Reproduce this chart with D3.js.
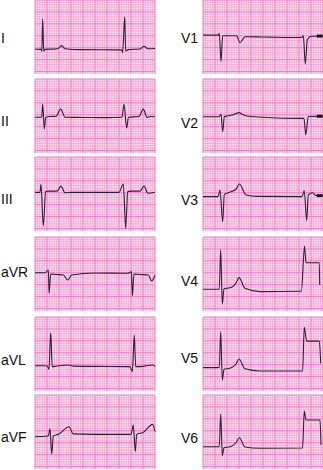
<!DOCTYPE html>
<html><head><meta charset="utf-8">
<script src="https://cdn.jsdelivr.net/npm/d3@7"></script>
<style>html,body{margin:0;padding:0;background:#fff;}svg{display:block;}</style>
</head><body>
<svg id="c" width="323" height="470"></svg>
<script>
// ---- data: time (s), amplitude (mV) ----
const leftLeads = ["I", "II", "III", "aVR", "aVL", "aVF"];
const rightLeads = ["V1", "V2", "V3", "V4", "V5", "V6"];

const leadI = [[0,-0.50],[0.083,-0.52],[0.105,-0.52],[0.113,-0.61],[0.128,0.75],[0.145,-0.60],[0.167,-0.52],[0.333,-0.50],[0.383,-0.48],[0.445,-0.36],[0.5,-0.49],[0.75,-0.53],[1.417,-0.54],[1.45,-0.55],[1.46,-0.66],[1.495,0.85],[1.512,-0.59],[1.55,-0.53],[1.75,-0.50],[1.817,-0.39],[1.883,-0.49],[2.0,-0.48]];
const leadII = [[0,-0.05],[0.11,-0.05],[0.128,0.50],[0.155,-0.54],[0.18,-0.05],[0.25,-0.02],[0.35,-0.01],[0.428,0.29],[0.5,-0.05],[0.8,-0.06],[1.2,-0.07],[1.45,-0.05],[1.483,0.49],[1.528,-0.51],[1.558,-0.05],[1.733,-0.02],[1.805,0.29],[1.867,-0.06],[1.917,-0.02],[2.0,-0.03]];
const leadIII = [[0,0.07],[0.083,0.07],[0.1,0.41],[0.138,-1.34],[0.178,0.10],[0.217,0.12],[0.367,0.12],[0.433,0.33],[0.5,0.05],[0.6,0.07],[1.40,0.07],[1.472,0.42],[1.512,-1.44],[1.545,0.10],[1.6,0.12],[1.75,0.12],[1.817,0.33],[1.883,0.03],[2.0,0.07]];
const leadAVR = [[0,0.05],[0.167,0.05],[0.222,0.17],[0.235,-0.81],[0.262,0.0],[0.35,-0.02],[0.472,-0.04],[0.545,-0.25],[0.612,-0.04],[1.0,0.04],[1.55,0.03],[1.608,0.10],[1.622,-0.91],[1.65,0.0],[1.75,-0.02],[1.888,-0.04],[1.945,-0.29],[2.0,-0.05]];
const leadAVL = [[0,-0.49],[0.2,-0.49],[0.233,-0.64],[0.262,0.89],[0.288,-0.53],[0.35,-0.51],[0.555,-0.46],[0.65,-0.51],[1.0,-0.52],[1.58,-0.53],[1.622,-0.74],[1.655,0.79],[1.678,-0.53],[1.75,-0.53],[1.972,-0.46],[2.0,-0.53]];
const leadAVF = [[0,-0.20],[0.22,-0.17],[0.25,0.13],[0.278,-0.93],[0.305,-0.17],[0.4,-0.08],[0.567,0.22],[0.638,-0.08],[1.0,-0.10],[1.6,-0.10],[1.638,0.29],[1.672,-0.82],[1.695,-0.10],[1.8,-0.02],[1.962,0.32],[2.0,0.01]];
const leadV1 = [[0,0.08],[0.26,0.08],[0.272,0.15],[0.3,-1.03],[0.328,0.05],[0.55,0.05],[0.562,0.04],[0.617,-0.24],[0.7,0.01],[1.0,0.0],[1.65,-0.02],[1.672,0.06],[1.705,-1.13],[1.738,-0.13],[1.767,-0.02],[1.812,0.03],[2.0,0.04]];
const leadV2 = [[0,-0.03],[0.27,-0.03],[0.3,0.07],[0.328,-0.66],[0.355,-0.03],[0.4,0.0],[0.5,0.05],[0.605,0.14],[0.65,0.08],[0.728,0.0],[1.0,-0.05],[1.62,-0.10],[1.683,-0.10],[1.712,-0.79],[1.755,-0.02],[2.0,-0.01]];
const leadV3 = [[0,-0.11],[0.25,-0.11],[0.283,0.17],[0.328,-1.16],[0.355,-0.03],[0.42,0.05],[0.55,0.20],[0.605,0.42],[0.717,-0.04],[0.9,-0.10],[1.65,-0.11],[1.688,0.14],[1.728,-1.12],[1.755,-0.04],[1.828,0.05],[1.88,-0.06],[2.0,-0.07]];
const leadV4 = [[0,-0.64],[0.27,-0.64],[0.295,1.0],[0.322,-1.26],[0.35,-0.62],[0.45,-0.58],[0.55,-0.38],[0.6,-0.15],[0.7,-0.60],[0.95,-0.74],[1.64,-0.72],[1.692,1.17],[1.717,0.47],[1.938,0.47],[1.945,-0.46]];
const leadV5 = [[0,-0.57],[0.27,-0.57],[0.295,0.93],[0.322,-1.09],[0.35,-0.64],[0.45,-0.60],[0.55,-0.42],[0.6,-0.21],[0.7,-0.62],[0.95,-0.71],[1.66,-0.71],[1.688,1.12],[1.728,0.54],[1.938,0.54],[1.962,-0.39]];
const leadV6 = [[0,-0.62],[0.27,-0.62],[0.295,0.75],[0.322,-0.99],[0.35,-0.66],[0.45,-0.62],[0.55,-0.45],[0.605,-0.24],[0.7,-0.63],[0.95,-0.68],[1.66,-0.67],[1.688,0.88],[1.717,0.50],[1.95,0.50],[1.967,-0.54]];

const traces = {I: leadI, II: leadII, III: leadIII, aVR: leadAVR, aVL: leadAVL, aVF: leadAVF,
  V1: leadV1, V2: leadV2, V3: leadV3, V4: leadV4, V5: leadV5, V6: leadV6};
// end-of-strip marker (time span, mV) on V1-V3
const endMarks = {V1: [[1.895,0.04],[1.99,0.04]], V2: [[1.895,-0.01],[1.99,-0.01]], V3: [[1.895,-0.07],[1.99,-0.07]]};

// ---- layout ----
const W = 323, H = 470;
const panelW = 120, panelH = 74;
const rowTops = [0, 79, 157, 237, 317, 395];
const colX = [35, 203];
const labelX = [1, 181];
const labelDy = {I: 38, II: 42, III: 42, aVR: 35, aVL: 43, aVF: 42, V1: 38, V2: 44, V3: 43, V4: 44, V5: 41, V6: 43};

const svg = d3.select("#c");
svg.append("rect").attr("width", W).attr("height", H).attr("fill", "#fff");

const x = d3.scaleLinear().domain([0, 2.0]).range([0, panelW]);
const y = d3.scaleLinear().domain([-1.55, 1.55]).range([panelH, 0]);
const line = d3.line().x(d => x(d[0])).y(d => y(d[1])).curve(d3.curveMonotoneX);

const vMinor = d3.range(0, 2.0001, 0.04);
const hMinor = d3.range(0, 31);

function drawPanel(name, col, row) {
  const g = svg.append("g").attr("transform", `translate(${colX[col]},${rowTops[row]})`);
  g.append("rect").attr("width", panelW).attr("height", panelH).attr("fill", "#fbe3f0");
  // minor grid
  g.selectAll("line.vm").data(vMinor.filter((d, i) => i % 5 !== 0)).join("line")
    .attr("x1", d => x(d)).attr("x2", d => x(d)).attr("y1", 0).attr("y2", panelH)
    .attr("stroke", "#f2a8d4").attr("stroke-width", 0.8);
  g.selectAll("line.hm").data(hMinor.filter(i => i % 5 !== 0)).join("line")
    .attr("y1", i => y(1.55 - i * 0.1)).attr("y2", i => y(1.55 - i * 0.1)).attr("x1", 0).attr("x2", panelW)
    .attr("stroke", "#f2a8d4").attr("stroke-width", 0.8);
  // major grid
  g.selectAll("line.vM").data(vMinor.filter((d, i) => i % 5 === 0)).join("line")
    .attr("x1", d => x(d)).attr("x2", d => x(d)).attr("y1", 0).attr("y2", panelH)
    .attr("stroke", "#e86cc4").attr("stroke-width", 0.9);
  g.selectAll("line.hM").data(hMinor.filter(i => i % 5 === 0)).join("line")
    .attr("y1", i => y(1.55 - i * 0.1)).attr("y2", i => y(1.55 - i * 0.1)).attr("x1", 0).attr("x2", panelW)
    .attr("stroke", "#e86cc4").attr("stroke-width", 0.9);
  // trace
  g.append("path").attr("d", line(traces[name])).attr("fill", "none")
    .attr("stroke", "#2a2236").attr("stroke-width", 1.1).attr("stroke-linejoin", "round");
  if (endMarks[name]) {
    g.append("path").attr("d", d3.line().x(d => x(d[0])).y(d => y(d[1]))(endMarks[name]))
      .attr("stroke", "#111").attr("stroke-width", 3);
  }
  svg.append("text").attr("x", labelX[col]).attr("y", rowTops[row] + labelDy[name])
    .attr("dominant-baseline", "central")
    .attr("font-family", "Liberation Sans, Arial, sans-serif").attr("font-size", 14)
    .attr("fill", "#111").text(name);
}

leftLeads.forEach((n, i) => drawPanel(n, 0, i));
rightLeads.forEach((n, i) => drawPanel(n, 1, i));
</script>
</body></html>
